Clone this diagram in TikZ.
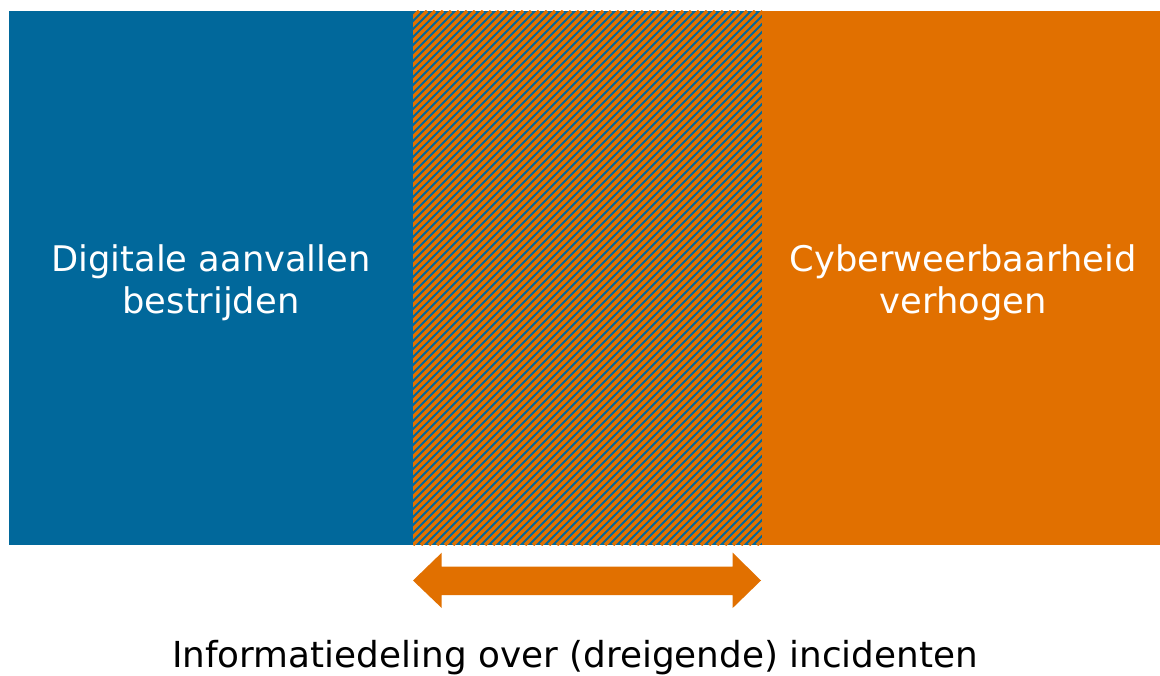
\documentclass[tikz,border=0pt]{standalone}
\usepackage{fontspec}
\setmainfont{DejaVu Sans}
\definecolor{rblue}{HTML}{01689B}
\definecolor{rorange}{HTML}{E17000}
\begin{document}
\begin{tikzpicture}[x=1pt,y=-1pt,
  boxtext/.style={text=white,align=center,font=\fontsize{35.3}{42}\selectfont},
  captext/.style={text=black,font=\fontsize{35.8}{42}\selectfont}]
\useasboundingbox (0,0) rectangle (1160,676);
\fill[rblue] (9,11) rectangle (413,545);
\fill[rorange] (762,11) rectangle (1160,545);
\fill[rblue] (413,11) rectangle (762,545);
\begin{scope}
\clip (413,11) rectangle (762,545);
\foreach \i in {-544,-536,...,360}{
  \draw[rorange,line width=3.3pt] (413+\i,545) -- (413+\i+534,11);
}
\end{scope}
\node[boxtext] (left) at (211,283) {Digitale aanvallen\\bestrijden};
\node[boxtext] (right) at (963,283) {Cyberweerbaarheid\\verhogen};
\fill[rorange] (413,580.5) -- (441.7,552.7) -- (441.7,566.5) -- (732.7,566.5) -- (732.7,552.7) -- (761,580.5) -- (732.7,608) -- (732.7,595) -- (441.7,595) -- (441.7,608) -- cycle;
\node[captext,anchor=base] (cap) at (575,667) {Informatiedeling over (dreigende) incidenten};
\end{tikzpicture}
\end{document}
